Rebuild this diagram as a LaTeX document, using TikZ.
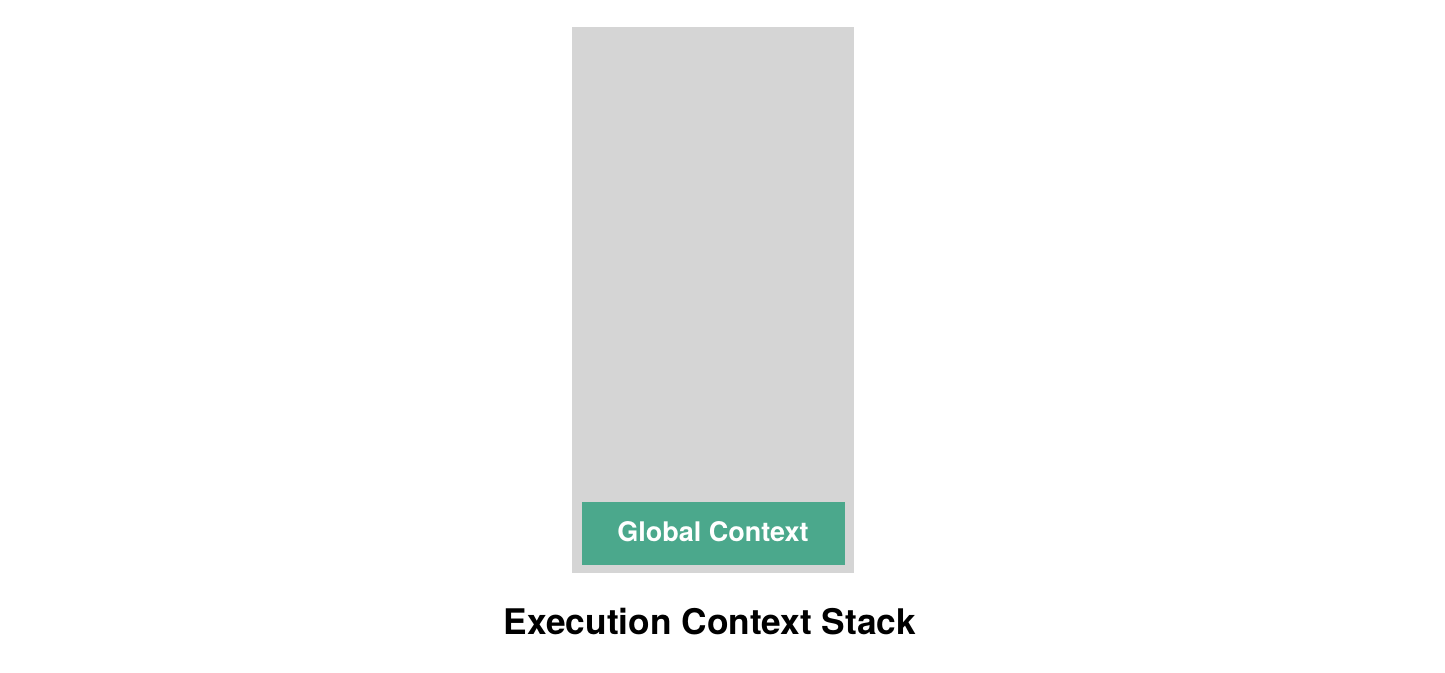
\documentclass[tikz,border=0pt]{standalone}
\usepackage{fontspec}
\setmainfont{TeX Gyre Heros}
\definecolor{stackgray}{HTML}{D5D5D5}
\definecolor{ctxgreen}{HTML}{4BA88C}
\tikzset{
  stackbox/.style={fill=stackgray,inner sep=0pt,minimum width=282pt,minimum height=546pt},
  ctxbox/.style={fill=ctxgreen,inner sep=0pt,minimum width=263pt,minimum height=63pt},
  ctxtext/.style={text=white,inner sep=0pt,font=\fontsize{27}{30}\selectfont\bfseries},
  titletext/.style={inner sep=0pt,font=\fontsize{35.3}{40}\selectfont\bfseries}
}
\begin{document}
\begin{tikzpicture}[x=1pt,y=-1pt]
\useasboundingbox (0,0) rectangle (1445,672);
% objects: stack, bottom frame, caption
\node[stackbox] (stack) at (713,300) {};
\node[ctxbox] (global) at (713.5,533.5) {};
\node[ctxtext] (globallabel) at (713,531.5) {Global Context};
\node[titletext] (title) at (710,622) {Execution Context Stack};
\end{tikzpicture}
\end{document}
